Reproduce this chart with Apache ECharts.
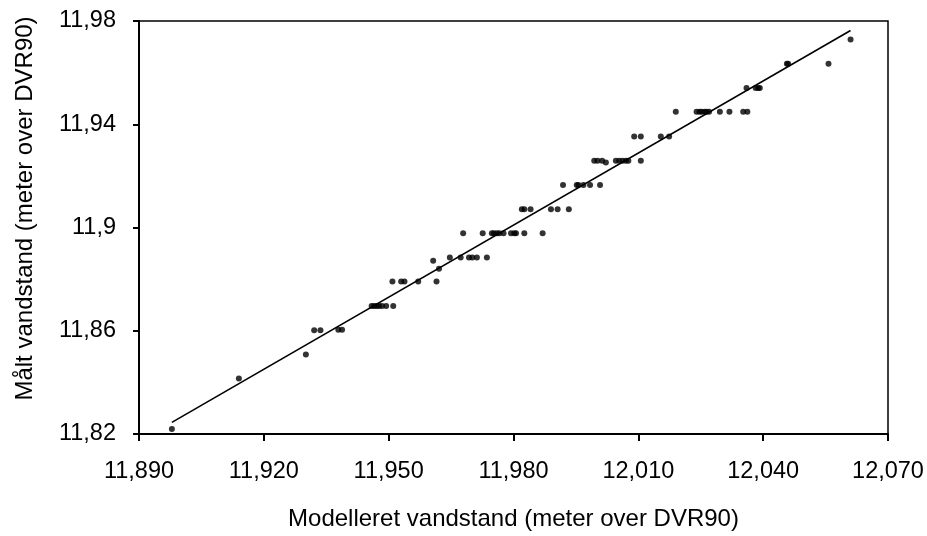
<!DOCTYPE html>
<html>
<head>
<meta charset="utf-8">
<script src="https://cdn.jsdelivr.net/npm/echarts@6/dist/echarts.min.js"></script>
<style>html,body{margin:0;padding:0;background:#fff}#c{width:927px;height:536px}</style>
</head>
<body>
<div id="c"></div>
<script>
// Modelled water level (x) and measured water level (y)
const modelled = [
  11.8979, 11.9140, 11.9301,
  11.9321, 11.9336, 11.9379, 11.9388,
  11.9459, 11.9465, 11.9471, 11.9477, 11.9484, 11.9494, 11.9511,
  11.9509, 11.9530, 11.9538, 11.9571, 11.9615,
  11.9607, 11.9621,
  11.9647, 11.9673, 11.9693, 11.9701, 11.9712, 11.9736,
  11.9679, 11.9726, 11.9748, 11.9753, 11.9760, 11.9766, 11.9776, 11.9794, 11.9802, 11.9806, 11.9826, 11.9870,
  11.9820, 11.9826, 11.9841, 11.9890, 11.9906, 11.9933,
  11.9919, 11.9952, 11.9956, 11.9968, 11.9984, 12.0008,
  11.9994, 12.0002, 12.0013, 12.0022, 12.0046, 12.0054, 12.0062, 12.0070, 12.0076, 12.0106,
  12.0090, 12.0106, 12.0154, 12.0174,
  12.0190, 12.0240, 12.0247, 12.0252, 12.0259, 12.0264, 12.0270, 12.0296, 12.0319, 12.0352, 12.0362,
  12.0360, 12.0382, 12.0388, 12.0392,
  12.0457, 12.0460, 12.0557,
  12.0610
];
const measured = [
  11.8219, 11.8415, 11.8508,
  11.8602, 11.8602, 11.8604, 11.8604,
  11.8696, 11.8696, 11.8696, 11.8696, 11.8696, 11.8696, 11.8696,
  11.8791, 11.8791, 11.8791, 11.8791, 11.8791,
  11.8871, 11.8840,
  11.8884, 11.8884, 11.8884, 11.8884, 11.8884, 11.8884,
  11.8978, 11.8978, 11.8978, 11.8978, 11.8978, 11.8978, 11.8978, 11.8978, 11.8978, 11.8978, 11.8978, 11.8978,
  11.9071, 11.9071, 11.9071, 11.9071, 11.9071, 11.9071,
  11.9165, 11.9165, 11.9165, 11.9165, 11.9165, 11.9165,
  11.9259, 11.9259, 11.9259, 11.9252, 11.9259, 11.9259, 11.9259, 11.9259, 11.9259, 11.9259,
  11.9353, 11.9353, 11.9353, 11.9353,
  11.9448, 11.9448, 11.9448, 11.9448, 11.9448, 11.9448, 11.9448, 11.9448, 11.9448, 11.9448, 11.9448,
  11.9540, 11.9540, 11.9540, 11.9540,
  11.9634, 11.9634, 11.9634,
  11.9728
];
// Trend line end points
const trendX = [11.8979, 12.0610];
const trendY = [11.8245, 11.9763];

const xTicks = [11.89, 11.92, 11.95, 11.98, 12.01, 12.04, 12.07];
const xTickLabels = ['11,890', '11,920', '11,950', '11,980', '12,010', '12,040', '12,070'];
const yTicks = [11.82, 11.86, 11.90, 11.94, 11.98];
const yTickLabels = ['11,82', '11,86', '11,9', '11,94', '11,98'];

const xTitle = 'Modelleret vandstand (meter over DVR90)';
const yTitle = 'Målt vandstand (meter over DVR90)';

function lookup(v, ticks, labels) {
  let best = 0;
  for (let i = 1; i < ticks.length; i++) {
    if (Math.abs(ticks[i] - v) < Math.abs(ticks[best] - v)) best = i;
  }
  return labels[best];
}

const points = modelled.map((x, i) => [x, measured[i]]);
const trend = trendX.map((x, i) => [x, trendY[i]]);
const FONT = 'Liberation Sans';

const chart = echarts.init(document.getElementById('c'), null, {renderer: 'canvas'});
chart.setOption({
  animation: false,
  backgroundColor: '#fff',
  grid: {left: 139, right: 39, top: 21, bottom: 100, show: true, borderColor: '#000', borderWidth: 1.5, containLabel: false},
  xAxis: {
    type: 'value', min: xTicks[0], max: xTicks[xTicks.length - 1],
    name: xTitle, nameLocation: 'middle', nameGap: 73,
    nameTextStyle: {fontFamily: FONT, fontSize: 24, color: '#000'},
    axisLine: {show: true, onZero: false, lineStyle: {color: '#000', width: 2}},
    axisTick: {show: true, inside: false, length: 7, customValues: xTicks, lineStyle: {color: '#000', width: 2}},
    axisLabel: {customValues: xTicks, margin: 26, fontFamily: FONT, fontSize: 23.5, color: '#000',
      formatter: v => lookup(v, xTicks, xTickLabels)},
    splitLine: {show: false}
  },
  yAxis: {
    type: 'value', min: yTicks[0], max: yTicks[yTicks.length - 1],
    name: yTitle, nameLocation: 'middle', nameGap: 102, nameRotate: 90,
    nameTextStyle: {fontFamily: FONT, fontSize: 24, color: '#000', padding: [0, 0, 0, 38]},
    axisLine: {show: true, onZero: false, lineStyle: {color: '#000', width: 2}},
    axisTick: {show: true, inside: false, length: 6, customValues: yTicks, lineStyle: {color: '#000', width: 2}},
    axisLabel: {customValues: yTicks, margin: 23, fontFamily: FONT, fontSize: 23.5, color: '#000',
      formatter: v => lookup(v, yTicks, yTickLabels)},
    splitLine: {show: false}
  },
  series: [
    {
      type: 'line', data: trend, symbol: 'none', silent: true,
      lineStyle: {color: '#000', width: 1.6}, z: 2
    },
    {
      type: 'scatter', data: points, symbol: 'circle', symbolSize: 6,
      itemStyle: {color: '#000'}, z: 3
    }
  ]
});
</script>
</body>
</html>
